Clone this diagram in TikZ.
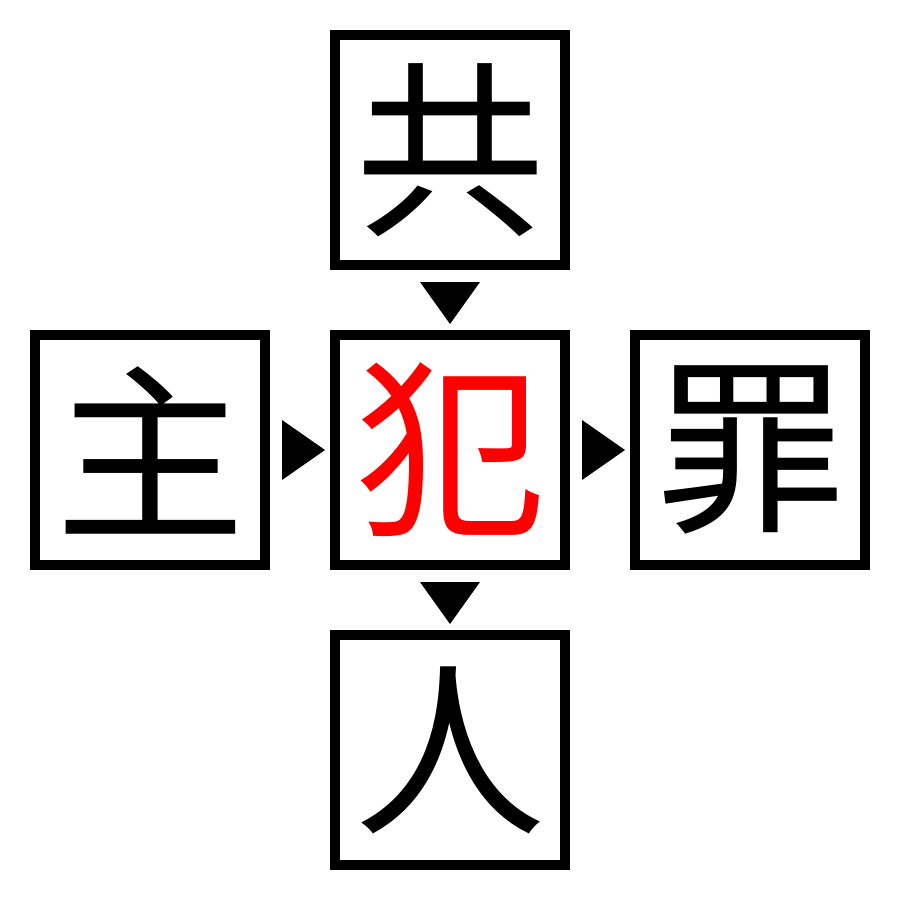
\documentclass[tikz,border=0pt]{standalone}
\usepackage{fontspec}
\newfontfamily\cjk{Noto Sans CJK JP}
\usetikzlibrary{calc}
\tikzset{
  charbox/.style={draw=black, line width=10pt, minimum size=230pt, inner sep=0pt, fill=white,
    font=\cjk\fontsize{190}{190}\selectfont},
  tri/.style={fill=black}
}
\begin{document}
\begin{tikzpicture}[x=1pt,y=-1pt]
\useasboundingbox[fill=white] (0,0) rectangle (900,900);
\node[charbox] (top) at (450,150) {共};
\node[charbox, text=red] (mid) at (450,450) {犯};
\node[charbox] (left) at (150,450) {主};
\node[charbox] (right) at (750,450) {罪};
\node[charbox] (bot) at (450,750) {人};
% down triangles
\fill[tri] ($(top.south)+(-30,12)$) -- ($(top.south)+(30,12)$) -- ($(mid.north)+(0,-6)$) -- cycle;
\fill[tri] ($(mid.south)+(-30,12)$) -- ($(mid.south)+(30,12)$) -- ($(bot.north)+(0,-6)$) -- cycle;
% right triangles
\fill[tri] ($(left.east)+(12,-30)$) -- ($(left.east)+(12,30)$) -- ($(mid.west)+(-5,0)$) -- cycle;
\fill[tri] ($(mid.east)+(12,-30)$) -- ($(mid.east)+(12,30)$) -- ($(right.west)+(-5,0)$) -- cycle;
\end{tikzpicture}
\end{document}
